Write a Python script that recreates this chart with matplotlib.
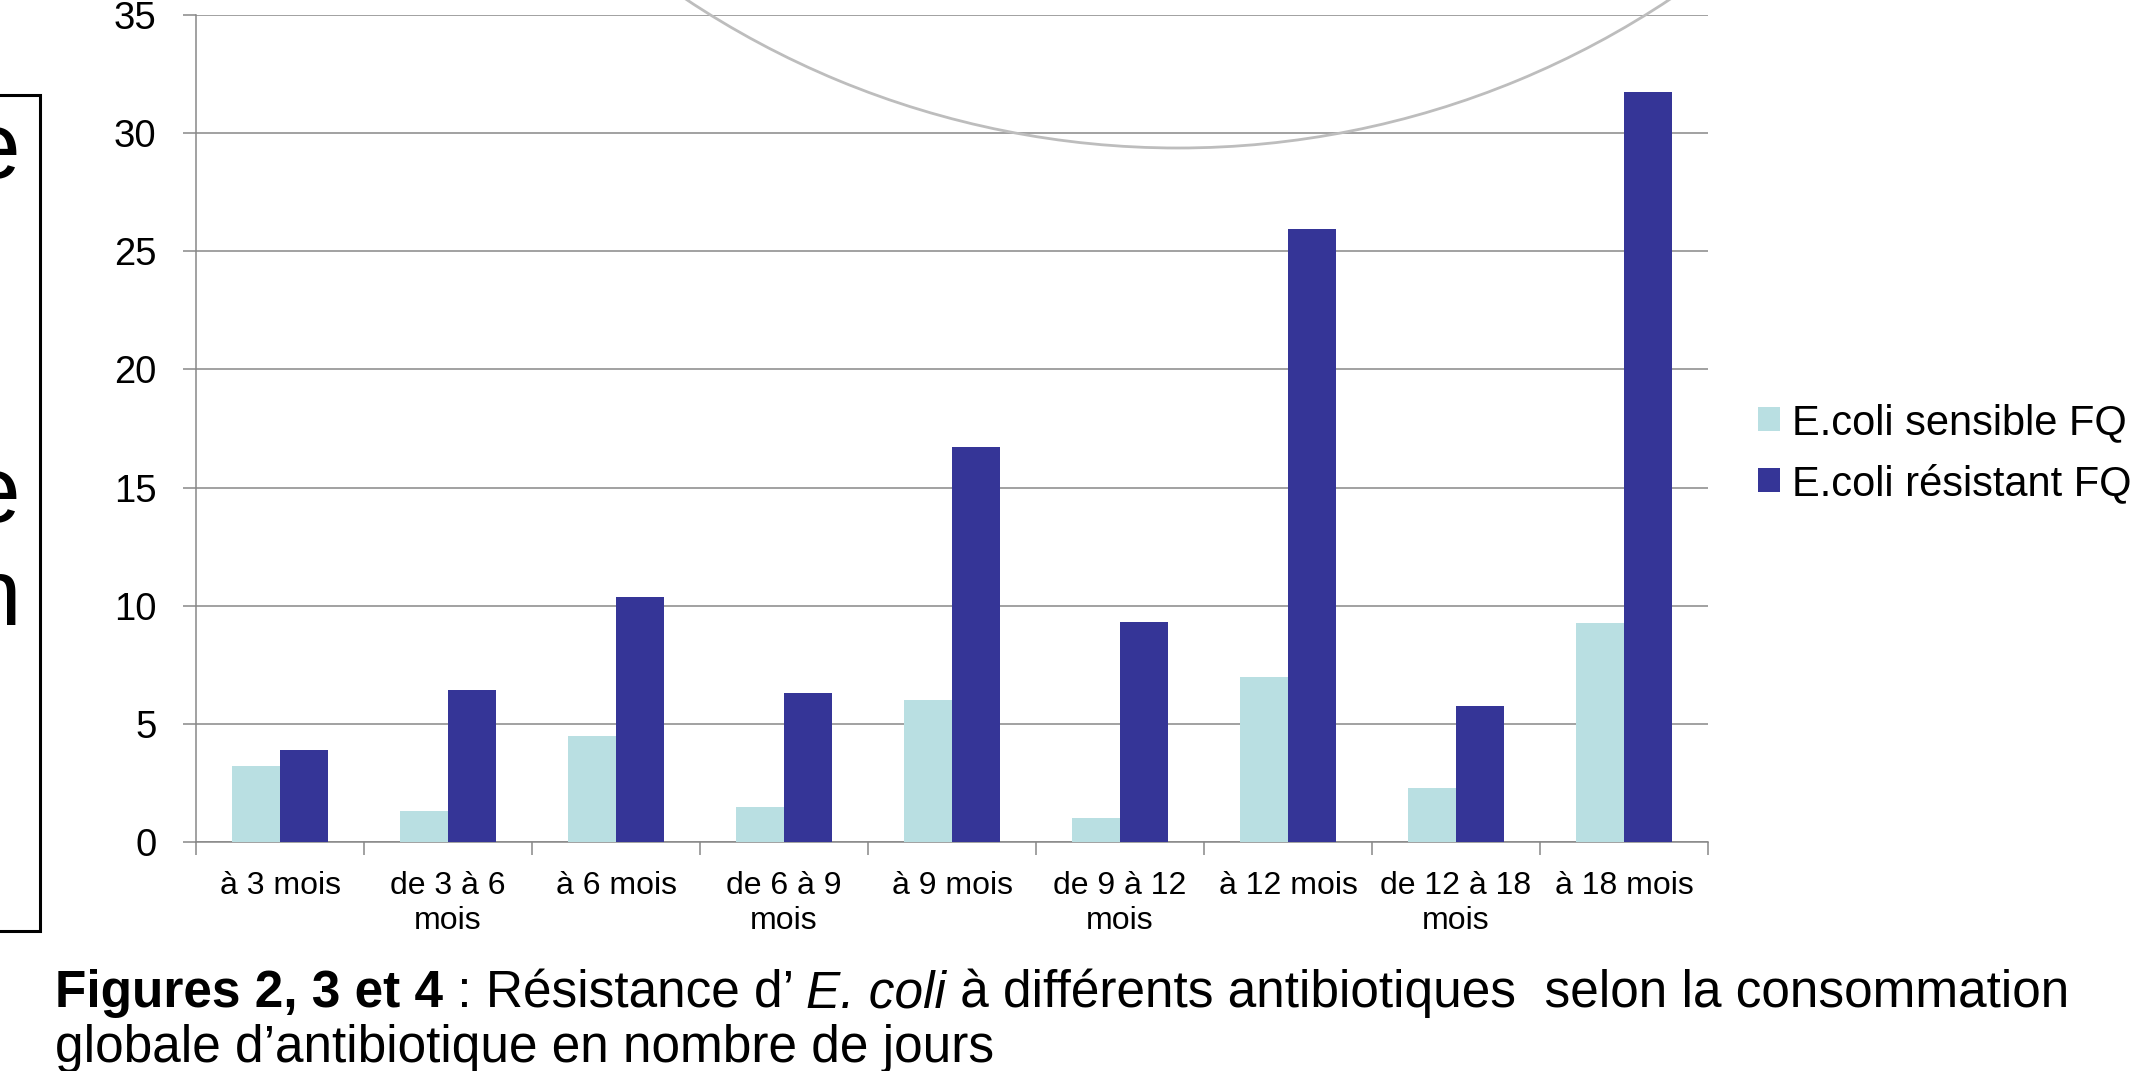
import matplotlib
matplotlib.use("Agg")
import matplotlib.pyplot as plt
import numpy as np
from matplotlib.patches import Patch, Arc, Rectangle

# ---- data ----
categories = ["à 3 mois", "de 3 à 6\nmois", "à 6 mois", "de 6 à 9\nmois", "à 9 mois",
              "de 9 à 12\nmois", "à 12 mois", "de 12 à 18\nmois", "à 18 mois"]
sensible = [3.2, 1.3, 4.5, 1.5, 6.0, 1.0, 7.0, 2.3, 9.25]
resistant = [3.9, 6.45, 10.35, 6.3, 16.7, 9.3, 25.95, 5.75, 31.75]
series_labels = ["E.coli sensible FQ", "E.coli résistant FQ"]
yticks = [0, 5, 10, 15, 20, 25, 30, 35]

plt.rcParams['font.family'] = ['Liberation Sans', 'DejaVu Sans']

W, H = 2132, 1071
DPI = 100
fig = plt.figure(figsize=(W / DPI, H / DPI), dpi=DPI)
fig.patch.set_facecolor('white')

def px(x0, y0, x1, y1):
    return [x0 / W, 1 - y1 / H, (x1 - x0) / W, (y1 - y0) / H]

ax = fig.add_axes(px(196, 15, 1708, 842))

c_light = '#B9DFE2'
c_dark = '#353597'
grid_c = '#878787'

x = np.arange(len(categories))
bw = 0.283
ax.bar(x - bw / 2, sensible, width=bw, color=c_light, edgecolor='none', zorder=3)
ax.bar(x + bw / 2, resistant, width=bw, color=c_dark, edgecolor='none', zorder=3)

ax.set_xlim(-0.5, len(categories) - 0.5)
ax.set_ylim(0, 35)
ax.set_yticks(yticks)
ax.set_yticklabels([str(v) for v in yticks])
ax.yaxis.grid(True, color=grid_c, linewidth=1.1, zorder=0)
ax.set_axisbelow(True)

# x ticks: marks at category boundaries, labels at centres
ax.set_xticks(np.arange(-0.5, len(categories), 1.0))
ax.set_xticklabels([])
ax.set_xticks(x, minor=True)
ax.set_xticklabels(categories, minor=True, fontsize=23, linespacing=1.2)
ax.tick_params(axis='x', which='major', length=9, width=1.1, color=grid_c, direction='out')
ax.tick_params(axis='x', which='minor', length=0, pad=21)
ax.tick_params(axis='y', length=9.5, width=1.1, color=grid_c, direction='out', labelsize=27.5, pad=19)

for s in ['top', 'right']:
    ax.spines[s].set_visible(False)
for s in ['left', 'bottom']:
    ax.spines[s].set_color(grid_c)
    ax.spines[s].set_linewidth(1.1)

handles = [Patch(facecolor=c_light, edgecolor='none'), Patch(facecolor=c_dark, edgecolor='none')]
fig.legend(handles, series_labels, loc='center left', bbox_to_anchor=(1758 / W, 1 - 453.5 / H),
           frameon=False, fontsize=30, handlelength=0.52, handleheight=0.52,
           handletextpad=0.29, labelspacing=0.5, borderpad=0, borderaxespad=0)

# ---- overlay (slide decorations & caption), pixel coordinates ----
ov = fig.add_axes([0, 0, 1, 1], facecolor='none')
ov.set_xlim(0, W)
ov.set_ylim(H, 0)
ov.axis('off')

R = 888
ov.add_patch(Arc((1178, -740), 2 * R, 2 * R, theta1=0, theta2=360,
                 color='#bdbdbd', linewidth=2.0, zorder=10))

ov.add_patch(Rectangle((-10, 95), 50, 836, fill=False, edgecolor='black', linewidth=2.2, zorder=5))
ov.text(21, 178, "e", fontsize=68, ha='right', va='baseline', color='black')
# two-line text: with va='baseline' the last line ("n") sits on y
ov.text(21, 625, "e\nn", fontsize=68, ha='right', va='baseline', color='black',
        multialignment='right', linespacing=1.2)

cap_fs = 37
cap_x = 55
t = ov.text(cap_x, 1007, "Figures 2, 3 et 4", fontsize=cap_fs, fontweight='bold',
            ha='left', va='baseline', color='black')
pieces = [(" : Résistance d’ ", 'normal'), ("E. coli", 'italic'),
          (" à différents antibiotiques  selon la consommation", 'normal')]
prev = t
for txt, style in pieces:
    prev = ov.annotate(txt, xy=(1, 0), xycoords=prev, fontsize=cap_fs, fontstyle=style,
                       ha='left', va='bottom', color='black')
ov.text(cap_x, 1062, "globale d’antibiotique en nombre de jours", fontsize=cap_fs,
        ha='left', va='baseline', color='black')

fig.savefig('out.png', dpi=DPI, facecolor='white')
